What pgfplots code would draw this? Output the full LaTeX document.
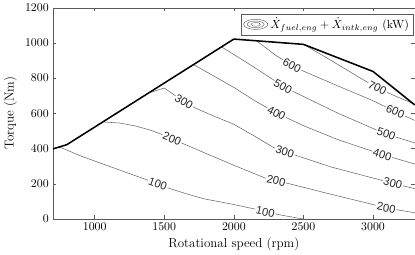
\documentclass[border=0pt]{standalone}
\usepackage{fontspec}
\usepackage{pgfplots}
\pgfplotsset{compat=1.18}
\newfontfamily\labfont{Liberation Sans}
\begin{document}
\begin{tikzpicture}
\begin{axis}[
  scale only axis, width=306pt, height=178.6pt,
  xmin=700, xmax=3300, ymin=0, ymax=1200,
  xtick={1000,1500,2000,2500,3000}, ytick={0,200,400,600,800,1000,1200},
  tick align=inside, tick pos=both, major tick length=3pt,
  axis line style={black!65, line width=0.4pt},
  every tick/.style={black!65, line width=0.4pt},
  scaled ticks=false, /pgf/number format/1000 sep={},
  tick label style={font=\fontsize{10}{12}\selectfont},
  label style={font=\fontsize{11}{13}\selectfont},
  xlabel={Rotational speed (rpm)}, ylabel={Torque (Nm)},
  xlabel style={yshift=1pt}, ylabel style={yshift=0pt},
  legend style={at={(0.996,0.972)}, anchor=north east, draw=black!65,
    font=\fontsize{10}{12}\selectfont, inner sep=1.5pt, row sep=0pt},
  legend cell align=left,
  clip=true,
]
\addlegendimage{legend image code/.code={
  \draw[black!60,line width=0.4pt] (0.36cm,0) ellipse [x radius=0.36cm, y radius=0.15cm];
  \draw[black!60,line width=0.4pt] (0.36cm,0) ellipse [x radius=0.25cm, y radius=0.1cm];
  \draw[black!60,line width=0.4pt] (0.36cm,0) ellipse [x radius=0.14cm, y radius=0.055cm];
}}
\addlegendentry{$\dot{X}_{fuel,eng}+\dot{X}_{intk,eng}$ (kW)}

% contours
\addplot[forget plot, black!60, line width=0.45pt] coordinates {
 (748,409) (900,358) (1053,314) (1200,272) (1383,220) (1454,198) (1536,174) (1650,145) (1788,114) (2000,82) (2141,58) (2226,40) (2353,20) (2495,0)};
\addplot[forget plot, black!60, line width=0.45pt] coordinates {
 (1065,551) (1180,545) (1289,529) (1400,505) (1477,482) (1555,455) (1642,426) (1800,372) (2000,305) (2233,230) (2304,217) (2389,202) (2700,140) (3010,80) (3095,63) (3300,35)};
\addplot[forget plot, black!60, line width=0.45pt] coordinates {
 (1406,720) (1500,744) (1580,700) (1642,665) (1724,630) (1854,585) (2000,538) (2150,470) (2283,407) (2367,380) (2459,358) (2700,295) (3060,220) (3142,202) (3300,172)};
\addplot[forget plot, black!60, line width=0.45pt] coordinates {
 (1712,876) (1850,815) (2007,744) (2150,672) (2306,602) (2500,530) (2750,450) (3067,366) (3300,312)};
\addplot[forget plot, black!60, line width=0.45pt] coordinates {
 (1913,977) (2007,931) (2150,860) (2283,791) (2353,752) (2471,707) (2750,600) (3012,510) (3095,482) (3248,445) (3300,432)};
\addplot[forget plot, black!60, line width=0.45pt] coordinates {
 (2165,1011) (2300,930) (2417,872) (2500,840) (2750,755) (3000,672) (3160,610) (3300,560)};
\addplot[forget plot, black!60, line width=0.45pt] coordinates {
 (2510,988) (2700,900) (2900,805) (3031,744) (3150,702) (3280,658)};

% max torque curve
\addplot[forget plot, black, line width=1.3pt] coordinates {
 (700,398) (800,422) (2000,1022) (2500,992) (3000,838) (3300,648)};

% contour labels
\tikzset{cl/.style={font=\labfont\fontsize{9.5}{11}\selectfont, fill=white, inner sep=0.8pt, text=black!85}}
\node[cl, rotate=-20] at (axis cs:1454,198) {100};
\node[cl, rotate=-12] at (axis cs:2226,40) {100};
\node[cl, rotate=-23] at (axis cs:1555,455) {200};
\node[cl, rotate=-13] at (axis cs:2304,217) {200};
\node[cl, rotate=-11] at (axis cs:3095,63) {200};
\node[cl, rotate=-31] at (axis cs:1642,665) {300};
\node[cl, rotate=-18] at (axis cs:2367,380) {300};
\node[cl, rotate=-15] at (axis cs:3142,202) {300};
\node[cl, rotate=-27] at (axis cs:2306,602) {400};
\node[cl, rotate=-18] at (axis cs:3067,366) {400};
\node[cl, rotate=-29] at (axis cs:2353,752) {500};
\node[cl, rotate=-19] at (axis cs:3095,482) {500};
\node[cl, rotate=-28] at (axis cs:2417,872) {600};
\node[cl, rotate=-24] at (axis cs:3160,610) {600};
\node[cl, rotate=-28] at (axis cs:3031,744) {700};
\end{axis}
\end{tikzpicture}
\end{document}
